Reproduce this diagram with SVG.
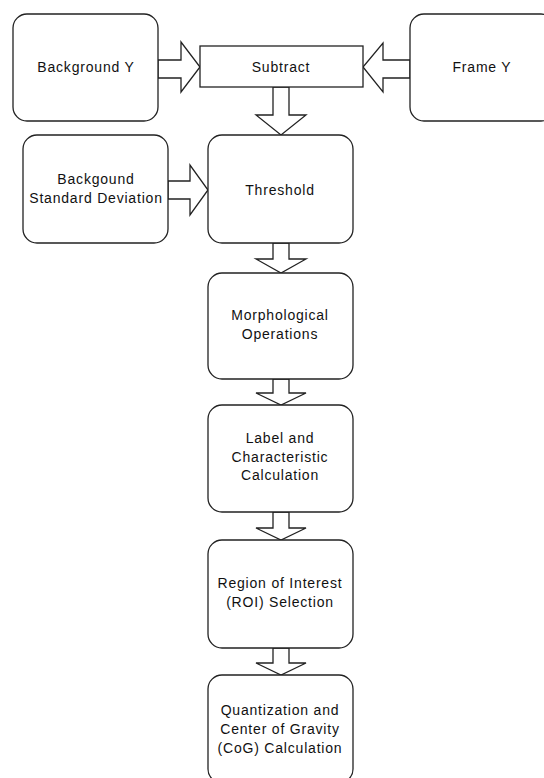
<svg xmlns="http://www.w3.org/2000/svg" width="544" height="778" viewBox="0 0 544 778">
<style>
.box{fill:#ffffff;stroke:#222;stroke-width:1.3}
.arr{fill:#ffffff;stroke:#222;stroke-width:1.3;stroke-linejoin:miter}
text{font-family:"Liberation Sans",Arial,sans-serif;font-size:14px;letter-spacing:0.8px;fill:#111;text-anchor:middle}
</style>
<rect x="0" y="0" width="544" height="778" fill="#ffffff"/>
<g id="connectors">
<polygon class="arr" points="158,60 181,60 181,42 200,67 181,92 181,78 158,78"/>
<polygon class="arr" points="410,60 383,60 383,43 363,67 383,92 383,78 410,78"/>
<polygon class="arr" points="168,181 190,181 190,165 208,190 190,215 190,199 168,199"/>
<polygon class="arr" points="273,87 273,115 256,115 281,135 306,115 289,115 289,87"/>
<polygon class="arr" points="273,243 273,259 256,259 281,273 306,259 289,259 289,243"/>
<polygon class="arr" points="273,379 273,393 256,393 281,405 306,393 289,393 289,379"/>
<polygon class="arr" points="273,512 273,528 256,528 281,540 306,528 289,528 289,512"/>
<polygon class="arr" points="273,648 273,663 256,663 281,675 306,663 289,663 289,648"/>
</g>
<g id="background-y">
<rect class="box" x="13" y="14" width="145" height="107" rx="14" ry="14"/>
<text x="86" y="72">Background Y</text>
</g>
<g id="subtract">
<rect class="box" x="200" y="46" width="163" height="41"/>
<text x="281" y="72">Subtract</text>
</g>
<g id="frame-y">
<rect class="box" x="410" y="14" width="145" height="107" rx="14" ry="14"/>
<text x="482" y="72">Frame Y</text>
</g>
<g id="background-sd">
<rect class="box" x="23" y="135" width="145" height="108" rx="14" ry="14"/>
<text x="96" y="184">Backgound</text>
<text x="96" y="203">Standard Deviation</text>
</g>
<g id="threshold">
<rect class="box" x="208" y="135" width="145" height="108" rx="14" ry="14"/>
<text x="280" y="195">Threshold</text>
</g>
<g id="morphological">
<rect class="box" x="208" y="273" width="145" height="106" rx="14" ry="14"/>
<text x="280" y="320">Morphological</text>
<text x="280" y="339">Operations</text>
</g>
<g id="label-calc">
<rect class="box" x="208" y="405" width="145" height="107" rx="14" ry="14"/>
<text x="280" y="443">Label and</text>
<text x="280" y="462">Characteristic</text>
<text x="280" y="480">Calculation</text>
</g>
<g id="roi">
<rect class="box" x="208" y="540" width="145" height="108" rx="14" ry="14"/>
<text x="280" y="588">Region of Interest</text>
<text x="280" y="607">(ROI) Selection</text>
</g>
<g id="quantization">
<rect class="box" x="208" y="675" width="145" height="108" rx="14" ry="14"/>
<text x="280" y="715">Quantization and</text>
<text x="280" y="734">Center of Gravity</text>
<text x="280" y="753">(CoG) Calculation</text>
</g>
</svg>
